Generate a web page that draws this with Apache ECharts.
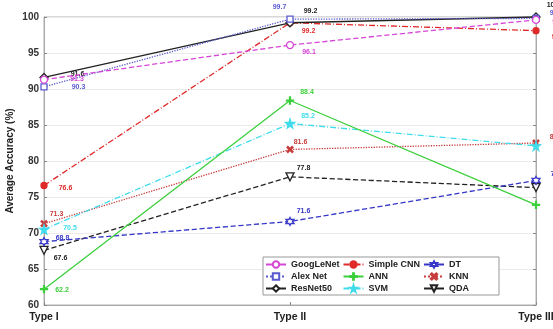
<!DOCTYPE html>
<html><head><meta charset="utf-8">
<script src="https://cdn.jsdelivr.net/npm/echarts@6/dist/echarts.min.js"></script>
<style>html,body{margin:0;padding:0;background:#fff}#c{width:553px;height:329px}</style>
</head><body><div id="c"></div>
<script>
const categories = ['Type I', 'Type II', 'Type III'];
const yTicks = [60, 65, 70, 75, 80, 85, 90, 95, 100];
const seriesNames = ['GoogLeNet', 'Alex Net', 'ResNet50', 'Simple CNN', 'ANN', 'SVM', 'DT', 'KNN', 'QDA'];
const googlenet = [91.3, 96.1, 99.6];
const alexnet = [90.3, 99.7, 99.8];
const resnet50 = [91.6, 99.2, 100];
const simplecnn = [76.6, 99.2, 98.1];
const ann = [62.2, 88.4, 73.9];
const svm = [70.5, 85.2, 82.1];
const dt = [68.8, 71.6, 77.3];
const knn = [71.3, 81.6, 82.5];
const qda = [67.6, 77.8, 76.3];

const values = [googlenet, alexnet, resnet50, simplecnn, ann, svm, dt, knn, qda];

// styles
const styles = [
  {color:'#d646d6', type:'dashed', symbol:'circle', size:7, fill:'#fff', off:[[22,-1],[8,7],[12,2]]},
  {color:'#5a5ad0', type:'dotted', symbol:'rect', size:6, fill:'#fff', off:[[24,0],[-21,-12],[10,-5]]},
  {color:'#222222', type:'solid', symbol:'diamond', size:8, fill:'#fff', off:[[22,-3],[9,-12],[6,-12]]},
  {color:'#e02a2a', type:[6,2,1,2], symbol:'circle', size:6, fill:null, off:[[11,3],[8,8],[12,6]]},
  {color:'#3ccf3c', type:'solid', symbol:'path://M4.3,0H5.7V4.3H10V5.7H5.7V10H4.3V5.7H0V4.3H4.3Z', size:7, fill:null, off:[[7,1],[6,-8],[13,-1]]},
  {color:'#3fdcec', type:[6,2,1,2], symbol:'path://M50,0L61,35H98L68,57L79,91L50,70L21,91L32,57L2,35H39Z', size:9, fill:null, off:[[14,-1],[6,-7],[12,4]]},
  {color:'#3636c8', type:'dashed', symbol:'path://M50,0L62,25H95L78,50L95,75H62L50,100L38,75H5L22,50L5,25H38Z', size:8, fill:'#fff', off:[[7,-4],[2,-10],[10,-6]]},
  {color:'#c83c3c', type:'dotted', symbol:'path://M1.5,0L5,3.5L8.5,0L10,1.5L6.5,5L10,8.5L8.5,10L5,6.5L1.5,10L0,8.5L3.5,5L0,1.5Z', size:6, fill:null, off:[[2,-10],[0,-7],[10,-6]]},
  {color:'#222222', type:'dashed', symbol:'triangle', size:8, fill:'#fff', rotate:180, off:[[5,8],[2,-9],[12,1]]}
];

const series = seriesNames.map((name, i) => {
  const s = styles[i];
  return {
    name: name,
    type: 'line',
    data: values[i].map((v, j) => ({
      value: v,
      label: {offset: s.off[j]}
    })),
    symbol: s.symbol,
    symbolSize: s.size,
    symbolRotate: s.rotate || 0,
    showAllSymbol: true,
    clip: false,
    lineStyle: {color: s.color, width: 1.3, type: s.type},
    itemStyle: {color: s.fill ? s.fill : s.color, borderColor: s.color, borderWidth: 1.3},
    label: {
      show: true, position: 'right', distance: 0,
      color: s.color, fontSize: 7, fontWeight: 'bold', fontFamily: 'Liberation Sans, Arial, sans-serif',
      formatter: p => String(p.value)
    },
    z: 10 - i
  };
});

const chart = echarts.init(document.getElementById('c'), null, {renderer: 'canvas'});
chart.setOption({
  animation: false,
  backgroundColor: '#ffffff',
  grid: {left: 44, right: 17, top: 17, bottom: 24, outerBoundsMode: 'none', containLabel: false, show: true, borderColor: '#b0b0b0', borderWidth: 1, backgroundColor: 'transparent'},
  xAxis: {
    type: 'category', data: categories, boundaryGap: false,
    axisLine: {lineStyle: {color: '#aaaaaa'}},
    axisTick: {inside: true, length: 3, lineStyle: {color: '#888'}},
    axisLabel: {color: '#222', fontSize: 10.5, fontWeight: 'bold', margin: 7, fontFamily: 'Liberation Sans, Arial, sans-serif'},
    splitLine: {show: false}
  },
  yAxis: [{
    type: 'value', min: yTicks[0], max: yTicks[yTicks.length-1], interval: 5,
    name: 'Average Accuracy (%)', nameLocation: 'middle', nameGap: 29, nameMoveOverlap: false,
    nameTextStyle: {color: '#222', fontSize: 10, fontWeight: 'bold', fontFamily: 'Liberation Sans, Arial, sans-serif'},
    axisLine: {show: true, lineStyle: {color: '#aaaaaa'}},
    axisTick: {show: true, inside: true, length: 3, lineStyle: {color: '#888'}},
    axisLabel: {color: '#333', fontSize: 10, fontWeight: 'bold', margin: 5, fontFamily: 'Liberation Sans, Arial, sans-serif'},
    splitLine: {show: true, lineStyle: {color: '#ebebeb', width: 1}}
  }, {
    type: 'value', min: yTicks[0], max: yTicks[yTicks.length-1], interval: 5, position: 'right',
    axisLine: {show: true, lineStyle: {color: '#aaaaaa'}},
    axisTick: {show: true, inside: true, length: 3, lineStyle: {color: '#888'}},
    axisLabel: {show: false}, splitLine: {show: false}
  }],
  legend: {
    orient: 'vertical', left: 263, top: 257, width: 236, height: 36,
    padding: [2, 28, 1, 2], itemGap: 1, itemWidth: 20, itemHeight: 8, itemTextGap: 4,
    borderColor: '#999', borderWidth: 1, backgroundColor: '#fff',
    textStyle: {color: '#222', fontSize: 9, lineHeight: 11, fontWeight: 'bold', fontFamily: 'Liberation Sans, Arial, sans-serif', padding: [0, 2, 0, 0]},
    data: seriesNames
  },
  series: series
});
</script></body></html>
